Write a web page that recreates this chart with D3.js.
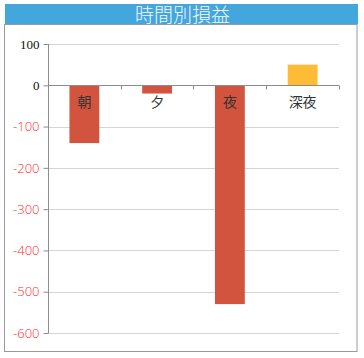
<!DOCTYPE html>
<html><head><meta charset="utf-8">
<script src="https://cdn.jsdelivr.net/npm/d3@7"></script>
<style>body{margin:0;background:#fff;}svg{display:block;}</style>
</head><body>
<script>
const title = "時間別損益";
const categories = ["朝", "夕", "夜", "深夜"];
const values = [-140, -20, -530, 50];
const tickValues = [100, 0, -100, -200, -300, -400, -500, -600];

const W = 364, H = 358;
const svg = d3.select("body").append("svg").attr("width", W).attr("height", H);

// frame
svg.append("rect").attr("x", 4.5).attr("y", 24.5).attr("width", 352.5).attr("height", 327)
  .attr("fill", "#fff").attr("stroke", "#9a9a9a").attr("stroke-width", 1);
// title bar
svg.append("rect").attr("x", 5).attr("y", 4).attr("width", 353).attr("height", 20).attr("fill", "#43a6dc");
svg.append("text").attr("x", 182.5).attr("y", 21.5).attr("text-anchor", "middle")
  .attr("fill", "#f4f8fb").attr("font-family", "'Noto Sans CJK JP'").attr("font-weight", 300).attr("font-size", 19)
  .text(title);

const x = d3.scaleBand().domain(categories).range([48, 339]).paddingInner(0.59).paddingOuter(0.295);
const y = d3.scaleLinear().domain([-600, 100]).range([333, 44]);

// gridlines
svg.append("g").selectAll("line").data(tickValues.filter(v => v !== 0)).join("line")
  .attr("x1", 48).attr("x2", 339).attr("y1", d => Math.round(y(d)) + 0.5).attr("y2", d => Math.round(y(d)) + 0.5)
  .attr("stroke", "#d4d4d4").attr("stroke-width", 1);

// bars
const colors = d => d < 0 ? "#d2533e" : "#fdbb36";
svg.append("g").selectAll("rect").data(values).join("rect")
  .attr("x", (d, i) => x(categories[i]))
  .attr("width", x.bandwidth())
  .attr("y", d => y(Math.max(0, d)))
  .attr("height", d => Math.abs(y(d) - y(0)))
  .attr("fill", colors);

// y axis
const yAxis = svg.append("g").attr("transform", "translate(48.5,0)")
  .call(d3.axisLeft(y).tickValues(tickValues).tickSize(5).tickPadding(4).tickFormat(d => String(d)));
yAxis.select(".domain").attr("stroke", "#8c8c8c").attr("d", `M0,${y(100)}V${y(-600)}`);
yAxis.selectAll(".tick line").attr("stroke", "#8c8c8c");
yAxis.selectAll(".tick text")
  .attr("fill", d => d < 0 ? "#ff2a2a" : "#111")
  .attr("font-family", d => d < 0 ? "'Open Sans', sans-serif" : "'Liberation Serif', serif")
  .attr("font-weight", d => d < 0 ? 300 : 400)
  .attr("font-size", 13);

// x axis at zero
const xAxis = svg.append("g").attr("transform", `translate(0,${Math.round(y(0)) + 0.5})`)
  .call(d3.axisBottom(x).tickSize(0).tickFormat(""));
xAxis.select(".domain").attr("stroke", "#8c8c8c").attr("d", "M48,0H339");
const bounds = [48, 121, 193, 266, 339];
xAxis.selectAll(".btick").data(bounds).join("line").attr("class", "btick")
  .attr("x1", d => d + 0.5).attr("x2", d => d + 0.5).attr("y1", 0).attr("y2", 4).attr("stroke", "#8c8c8c");

// category labels
svg.append("g").selectAll("text").data(categories).join("text")
  .attr("x", d => x(d) + x.bandwidth() / 2).attr("y", 107)
  .attr("text-anchor", "middle").attr("fill", "#333")
  .attr("font-family", "'Noto Sans CJK JP'").attr("font-size", 14)
  .text(d => d);
</script>
</body></html>
